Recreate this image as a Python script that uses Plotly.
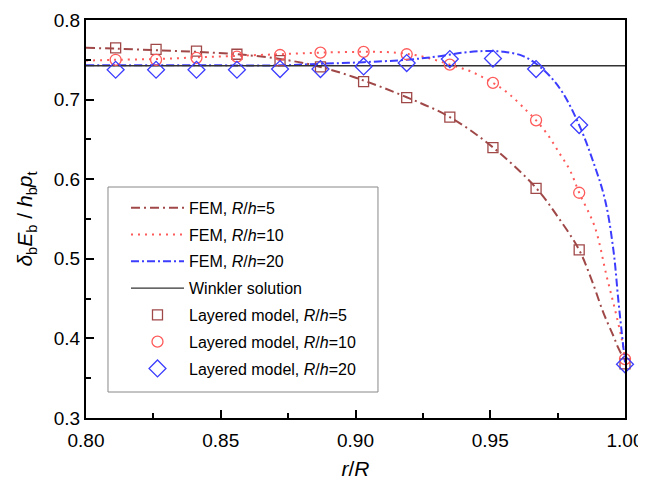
import plotly.graph_objects as go

# ---- data ----
winkler_x = [0.80, 1.00]
winkler_y = [0.7425, 0.7425]

fem5_x = [0.800, 0.811, 0.826, 0.841, 0.856, 0.872, 0.887, 0.903, 0.919, 0.935, 0.951, 0.967, 0.975, 0.983, 0.988, 0.992, 0.9957, 0.9975, 1.000]
fem5_y = [0.765, 0.764, 0.762, 0.760, 0.757, 0.751, 0.741, 0.724, 0.703, 0.678, 0.640, 0.589, 0.553, 0.511, 0.470, 0.432, 0.403, 0.388, 0.372]

fem10_x = [0.800, 0.811, 0.826, 0.841, 0.856, 0.872, 0.887, 0.903, 0.915, 0.925, 0.935, 0.943, 0.951, 0.957, 0.9635, 0.967, 0.9715, 0.9758, 0.9796, 0.983, 0.9888, 0.9932, 0.9963, 0.9988, 1.000]
fem10_y = [0.749, 0.750, 0.751, 0.753, 0.755, 0.757, 0.759, 0.760, 0.759, 0.754, 0.744, 0.735, 0.721, 0.707, 0.686, 0.674, 0.655, 0.632, 0.611, 0.583, 0.540, 0.478, 0.436, 0.399, 0.375]

fem20_x = [0.800, 0.850, 0.872, 0.887, 0.903, 0.919, 0.930, 0.940, 0.948, 0.955, 0.962, 0.967, 0.972, 0.977, 0.983, 0.988, 0.9926, 0.9957, 0.9975, 0.9988, 1.000]
fem20_y = [0.743, 0.743, 0.743, 0.745, 0.747, 0.750, 0.754, 0.759, 0.761, 0.760, 0.755, 0.745, 0.730, 0.708, 0.668, 0.624, 0.574, 0.511, 0.449, 0.407, 0.370]

lay_x = [0.811, 0.826, 0.841, 0.856, 0.872, 0.887, 0.903, 0.919, 0.935, 0.951, 0.967, 0.983, 1.000]
lay5_y = [0.765, 0.763, 0.761, 0.757, 0.749, 0.741, 0.7225, 0.7025, 0.678, 0.6396, 0.5884, 0.5113, 0.368]
lay10_y = [0.750, 0.750, 0.7525, 0.754, 0.756, 0.759, 0.760, 0.757, 0.744, 0.721, 0.674, 0.583, 0.374]
lay20_y = [0.7375, 0.7375, 0.7375, 0.7375, 0.7384, 0.7384, 0.7416, 0.7459, 0.7509, 0.7516, 0.7384, 0.668, 0.3675]

x_ticks = [0.80, 0.85, 0.90, 0.95, 1.00]
y_ticks = [0.3, 0.4, 0.5, 0.6, 0.7, 0.8]

BROWN = "#a04848"
RED = "#ff5a5a"
BLUE = "#3c3cff"
FONT = "Liberation Sans, Arial, sans-serif"

fig = go.Figure()
fig.add_trace(go.Scatter(x=fem5_x, y=fem5_y, mode="lines", line=dict(color=BROWN, width=2, dash="9px,4px,2px,4px", shape="spline"),
                         name="FEM, <i>R</i>/<i>h</i>=5", legendgroup="a"))
fig.add_trace(go.Scatter(x=fem10_x, y=fem10_y, mode="lines", line=dict(color=RED, width=2, dash="2px,5px", shape="spline"),
                         name="FEM, <i>R</i>/<i>h</i>=10", legendgroup="b"))
fig.add_trace(go.Scatter(x=fem20_x, y=fem20_y, mode="lines", line=dict(color=BLUE, width=2, dash="8px,3px,2px,3px", shape="spline"),
                         name="FEM, <i>R</i>/<i>h</i>=20", legendgroup="c"))
fig.add_trace(go.Scatter(x=winkler_x, y=winkler_y, mode="lines", line=dict(color="#333333", width=1.3),
                         name="Winkler solution", legendgroup="d"))
fig.add_trace(go.Scatter(x=lay_x, y=lay5_y, mode="markers", cliponaxis=False,
                         marker=dict(symbol="square-open", size=10, color=BROWN, line=dict(width=1.3, color=BROWN)),
                         name="Layered model, <i>R</i>/<i>h</i>=5", legendgroup="e"))
fig.add_trace(go.Scatter(x=lay_x, y=lay10_y, mode="markers", cliponaxis=False,
                         marker=dict(symbol="circle-open", size=11, color=RED, line=dict(width=1.3, color=RED)),
                         name="Layered model, <i>R</i>/<i>h</i>=10", legendgroup="f"))
fig.add_trace(go.Scatter(x=lay_x, y=lay20_y, mode="markers", cliponaxis=False,
                         marker=dict(symbol="diamond-open", size=13, color=BLUE, line=dict(width=1.3, color=BLUE)),
                         name="Layered model, <i>R</i>/<i>h</i>=20", legendgroup="g"))

axis_common = dict(showgrid=False, zeroline=False, showline=True, linecolor="black", linewidth=2,
                   mirror=True, ticks="inside", ticklen=8, tickwidth=2, tickcolor="black", automargin=False,
                   ticklabeloverflow="allow",
                   tickfont=dict(family=FONT, size=19, color="black"))

fig.update_xaxes(range=[0.80, 1.00], tickvals=x_ticks, ticktext=[f"{v:.2f}" for v in x_ticks],
                 minor=dict(ticks="inside", dtick=0.025, tick0=0.8, ticklen=5, tickwidth=2, tickcolor="black"),
                 ticklabelstandoff=4,
                 title=dict(text="<i>r</i>/<i>R</i>", font=dict(family=FONT, size=21, color="black")),
                 **axis_common)
fig.update_yaxes(range=[0.3, 0.8], tickvals=y_ticks, ticktext=[f"{v:.1f}" for v in y_ticks],
                 minor=dict(ticks="inside", dtick=0.05, tick0=0.3, ticklen=5, tickwidth=2, tickcolor="black"),
                 title=dict(text="<i>δ</i><sub>b</sub><i>E</i><sub>b</sub> / <i>h</i><sub>b</sub><i>p</i><sub>t</sub>",
                            font=dict(family=FONT, size=21, color="black")),
                 **axis_common)

# legend frame (drawn as a shape so that the inner padding matches the reference)
fig.add_shape(type="rect", xref="paper", yref="paper", x0=0.0408, x1=0.5417, y0=0.0653, y1=0.5804,
              line=dict(color="#888888", width=1), fillcolor="white", layer="below")

fig.update_layout(
    width=638, height=472,
    margin=dict(l=78, r=21, t=12, b=62, autoexpand=False),
    paper_bgcolor="white", plot_bgcolor="white",
    font=dict(family=FONT, size=16, color="black"),
    showlegend=True,
    legend=dict(x=0.0742, y=0.571, xanchor="left", yanchor="top",
                bgcolor="rgba(0,0,0,0)", borderwidth=0,
                font=dict(family=FONT, size=16, color="black"),
                traceorder="grouped", tracegroupgap=3, itemwidth=53),
)

fig.write_html("out.html")
